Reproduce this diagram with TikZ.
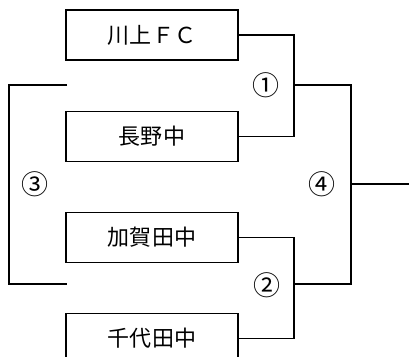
\documentclass[tikz,border=0pt]{standalone}
\usepackage{fontspec}
\newfontfamily\jpfont[LetterSpace=3]{Noto Sans CJK JP}
\usetikzlibrary{positioning}

\begin{document}
\begin{tikzpicture}[x=1pt,y=-1pt,node distance=50pt,font=\jpfont\fontsize{22}{26}\selectfont]
\tikzstyle{team} = [draw, line width=1.2pt, minimum width=172pt, minimum height=50pt, inner sep=0pt, rectangle]
\tikzstyle{wire} = [line width=1.2pt]
\tikzstyle{gamenum} = [inner sep=0pt, font=\jpfont\fontsize{27}{30}\selectfont]
\useasboundingbox (0,0) rectangle (409,356);
\clip (0,0) rectangle (409,356);

% Teams
\node[team] (kawakami) at (152,35) {川上ＦＣ};
\node[team, below=of kawakami] (nagano) {長野中};
\node[team, below=of nagano] (kagata) {加賀田中};
\node[team, below=of kagata] (chiyoda) {千代田中};

% Junctions
\coordinate (j1) at (294,85);
\coordinate (j2) at (294,284);
\coordinate (j4) at (351,184);
\coordinate (l3top) at (67,85);
\coordinate (l3bot) at (67,284);
\coordinate (out) at (409,184);

% First round
\draw [wire] (kawakami.east) -| (j1) |- (nagano.east);
\draw [wire] (kagata.east) -| (j2) |- (chiyoda.east);
\node[gamenum] (g1) at (266,85) {①};
\node[gamenum] (g2) at (267,285) {②};

% Third place
\draw [wire] (l3top) -- (9,85) -- (9,284) -- (l3bot);
\node[gamenum] (g3) at (35,184) {③};

% Final
\draw [wire] (j1) -| (j4) |- (j2);
\draw [wire] (j4) -- (out);
\node[gamenum] (g4) at (322,184) {④};
%
\end{tikzpicture}
\end{document}
